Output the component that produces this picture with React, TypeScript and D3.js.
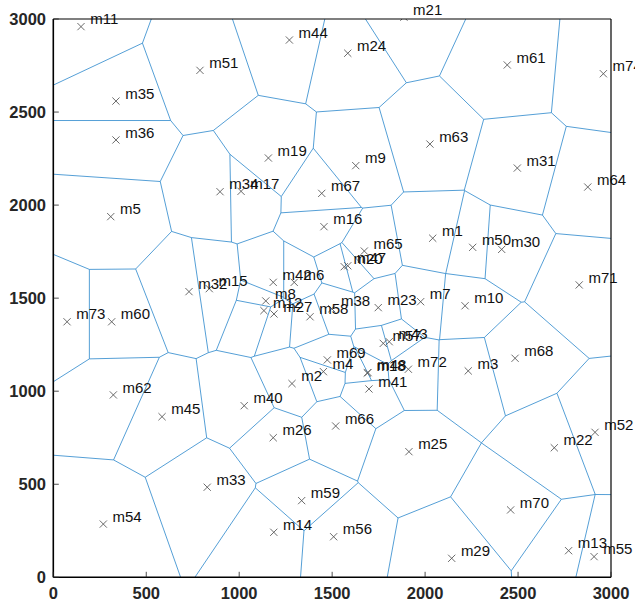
import React from 'react';
import * as d3 from 'd3';

const W = 635;
const H = 608;

// Site names and coordinates (metres)
const pointNames = [
  'm1', 'm2', 'm3', 'm4', 'm5', 'm6', 'm7', 'm8', 'm9', 'm10',
  'm11', 'm12', 'm13', 'm14', 'm15', 'm16', 'm17', 'm18', 'm19', 'm20',
  'm21', 'm22', 'm23', 'm24', 'm25', 'm26', 'm27', 'm29', 'm30', 'm31',
  'm32', 'm33', 'm34', 'm35', 'm36', 'm38', 'm40', 'm41', 'm42', 'm43',
  'm44', 'm45', 'm47', 'm48', 'm50', 'm51', 'm52', 'm54', 'm55', 'm56',
  'm57', 'm58', 'm59', 'm60', 'm61', 'm62', 'm63', 'm64', 'm65', 'm66',
  'm67', 'm68', 'm69', 'm70', 'm71', 'm72', 'm73', 'm74',
];
const pointX = [
  2041, 1284, 2232, 1453, 309, 1296, 1976, 1143, 1627, 2215,
  149, 1133, 2772, 1186, 839, 1456, 1010, 1689, 1157, 1565,
  1886, 2695, 1748, 1584, 1913, 1183, 1187, 2143, 2412, 2496,
  730, 828, 897, 337, 337, 1498, 1027, 1698, 1183, 1807,
  1270, 585, 1584, 1693, 2256, 789, 2914, 269, 2909, 1508,
  1775, 1381, 1336, 314, 2442, 323, 2026, 2875, 1673, 1519,
  1444, 2484, 1474, 2460, 2829, 1910, 74, 2959,
];
const pointY = [
  1822, 1041, 1109, 1105, 1938, 1585, 1481, 1485, 2212, 1459,
  2959, 1433, 143, 242, 1551, 1884, 2074, 1098, 2253, 1669,
  3010, 696, 1449, 2816, 675, 750, 1415, 102, 1762, 2199,
  1535, 484, 2072, 2559, 2350, 1443, 922, 1012, 1585, 1266,
  2887, 863, 1674, 1100, 1773, 2724, 779, 286, 111, 218,
  1257, 1400, 412, 1373, 2753, 980, 2328, 2097, 1753, 813,
  2063, 1177, 1168, 362, 1571, 1118, 1373, 2706,
];

const xTicks = [0, 500, 1000, 1500, 2000, 2500, 3000];
const yTicks = [0, 500, 1000, 1500, 2000, 2500, 3000];
const domainMax = 3000;

const plot = { left: 53.3, right: 611, top: 19, bottom: 577.3 };

export default function App() {
  const x = d3.scaleLinear().domain([0, domainMax]).range([plot.left, plot.right]);
  const y = d3.scaleLinear().domain([0, domainMax]).range([plot.bottom, plot.top]);

  const pts: [number, number][] = pointX.map((v, i) => [v, pointY[i]]);
  const delaunay = d3.Delaunay.from(pts);
  const voronoi = delaunay.voronoi([0, 0, domainMax, domainMax]);
  const edges = voronoi.render();

  const kx = (plot.right - plot.left) / domainMax;
  const ky = (plot.bottom - plot.top) / domainMax;

  const font = '"Liberation Sans", Arial, Helvetica, sans-serif';

  return (
    <svg
      width={W}
      height={H}
      style={{ position: 'absolute', left: 0, top: 0, display: 'block', background: '#fff' }}
    >
      <defs>
        <clipPath id="plotClip">
          <rect x={plot.left} y={plot.top} width={plot.right - plot.left} height={plot.bottom - plot.top} />
        </clipPath>
      </defs>
      <rect x={0} y={0} width={W} height={H} fill="#fff" />

      {/* Voronoi edges */}
      <g clipPath="url(#plotClip)">
        <path
          d={edges}
          transform={`translate(${plot.left},${plot.bottom}) scale(${kx},${-ky})`}
          fill="none"
          stroke="#2a86cc"
          strokeWidth={0.8}
          vectorEffect="non-scaling-stroke"
        />
        {/* site markers */}
        {pts.map(([px, py], i) => {
          const cx = x(px);
          const cy = y(py);
          const r = 3.6;
          return (
            <path
              key={pointNames[i]}
              d={`M${cx - r},${cy - r}L${cx + r},${cy + r}M${cx - r},${cy + r}L${cx + r},${cy - r}`}
              stroke="#5a5a5a"
              strokeWidth={0.9}
              fill="none"
            />
          );
        })}
      </g>

      {/* site labels */}
      <g fontFamily={font} fontSize={15} fill="#111">
        {pts.map(([px, py], i) => (
          <text key={pointNames[i]} x={x(px) + 9.2} y={y(py) - 2.4}>
            {pointNames[i]}
          </text>
        ))}
      </g>

      {/* axes box */}
      <g stroke="#000" fill="none">
        <line x1={plot.left} x2={plot.right} y1={plot.top} y2={plot.top} strokeWidth={1.2} />
        <line x1={plot.right} x2={plot.right} y1={plot.top} y2={plot.bottom} strokeWidth={1.2} />
        <line x1={plot.left} x2={plot.left} y1={plot.top} y2={plot.bottom} strokeWidth={1.6} />
        <line x1={plot.left} x2={plot.right} y1={plot.bottom} y2={plot.bottom} strokeWidth={1.6} />
        {xTicks.map((t) => (
          <line key={`xt${t}`} x1={x(t)} x2={x(t)} y1={plot.bottom} y2={plot.bottom - 5.5} stroke="#222" strokeWidth={0.8} />
        ))}
        {yTicks.map((t) => (
          <line key={`yt${t}`} x1={plot.left} x2={plot.left + 5.5} y1={y(t)} y2={y(t)} stroke="#222" strokeWidth={0.8} />
        ))}
      </g>

      {/* tick labels */}
      <g fontFamily={font} fontSize={16.5} fontWeight="bold" fill="#262626">
        {xTicks.map((t) => (
          <text key={`xl${t}`} x={x(t)} y={599} textAnchor="middle">
            {t}
          </text>
        ))}
        {yTicks.map((t) => (
          <text key={`yl${t}`} x={46} y={y(t) + 6} textAnchor="end">
            {t}
          </text>
        ))}
      </g>
    </svg>
  );
}
